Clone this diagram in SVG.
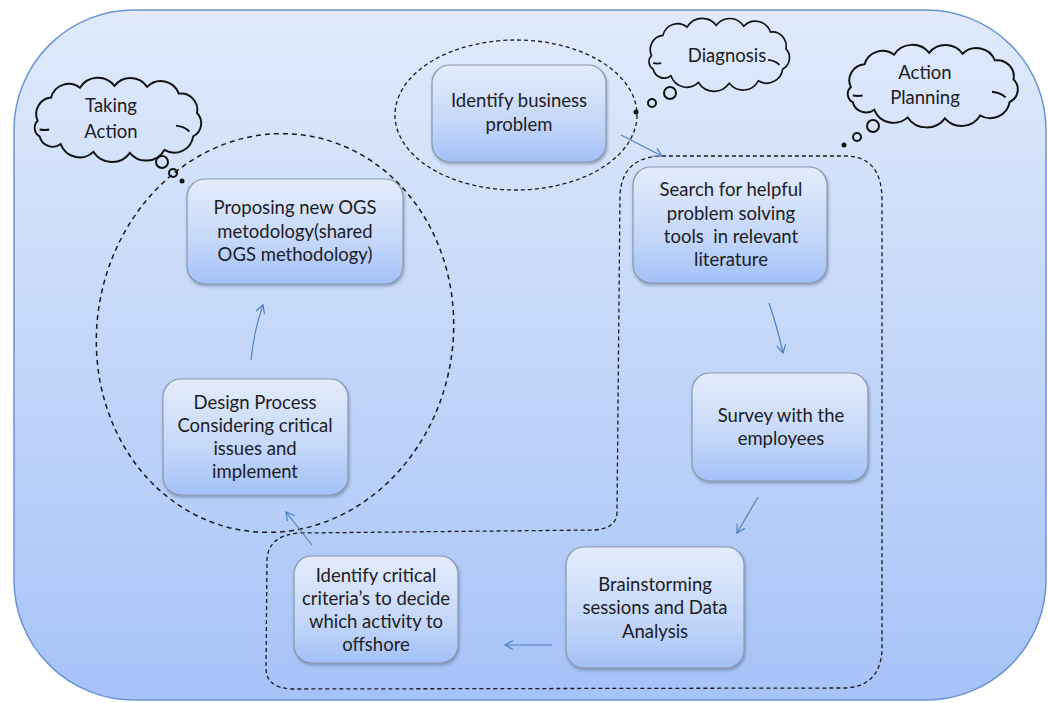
<svg xmlns="http://www.w3.org/2000/svg" width="1048" height="703" viewBox="0 0 1048 703">
  <defs>
    <linearGradient id="bgGrad" x1="0" y1="0" x2="0" y2="1">
      <stop offset="0" stop-color="#e0eafb"/>
      <stop offset="1" stop-color="#a6c3f8"/>
    </linearGradient>
    <linearGradient id="nodeGrad" x1="0" y1="0" x2="0" y2="1">
      <stop offset="0" stop-color="#e4ecfb"/>
      <stop offset="0.6" stop-color="#c4d7f9"/>
      <stop offset="1" stop-color="#a3c1f7"/>
    </linearGradient>
    <filter id="shadow" x="-10%" y="-10%" width="125%" height="130%">
      <feDropShadow dx="1" dy="2" stdDeviation="1.5" flood-color="#3a4a66" flood-opacity="0.4"/>
    </filter>
    <marker id="arrow" markerWidth="12" markerHeight="12" refX="9" refY="5" orient="auto" markerUnits="userSpaceOnUse">
      <path d="M1,0.5 L9,5 L1,9.5" fill="none" stroke="#4f81bd" stroke-width="1.2"/>
    </marker>
    <path id="cloudShape" d="M8,40 A17,17 0 0 1 22,16 A19,19 0 0 1 52,6 A22,22 0 0 1 88,4 A21,21 0 0 1 122,5 A20,20 0 0 1 155,12 A17,17 0 0 1 174,32 A15,15 0 0 1 170,56 A20,20 0 0 1 140,70 A22,22 0 0 1 104,73 A23,23 0 0 1 66,72 A21,21 0 0 1 32,64 A14,14 0 0 1 10,56 A10,10 0 0 1 8,40 Z M10,49 Q15,50 20,49 M152,45 Q161,46 166,51"/>
  </defs>
  <style>
    .node rect { fill: url(#nodeGrad); stroke: #8a97ad; stroke-width: 1.2; filter: url(#shadow); }
    text { font-family: Lato, "Open Sans", "Liberation Sans", sans-serif; font-size: 18.5px; fill: #1d1d24; text-anchor: middle; white-space: pre; }
    .conn { fill: none; stroke: #4f81bd; stroke-width: 1.2; marker-end: url(#arrow); }
    .dash { fill: none; stroke: #1a1a1a; stroke-width: 1.5; stroke-dasharray: 5 4; }
    .dash-thin { fill: none; stroke: #1a1a1a; stroke-width: 1.3; stroke-dasharray: 4 3; }
    .cloud use { fill: none; stroke: #111; stroke-width: 2; vector-effect: non-scaling-stroke; }
    .bubble { fill: none; stroke: #111; stroke-width: 2; }
  </style>

  <!-- backdrop panel -->
  <rect x="14" y="10" width="1032" height="690" rx="120" ry="120" fill="url(#bgGrad)" stroke="#6a95d4" stroke-width="1.5"/>

  <!-- phase groupings -->
  <g id="groupings">
    <ellipse class="dash-thin" cx="516" cy="115" rx="121" ry="75"/>
    <ellipse class="dash" cx="275" cy="333" rx="178" ry="200" transform="rotate(10 275 333)"/>
    <path class="dash-thin" d="M617,512 Q617,528 595,530 L300,533 Q268,535 267,560 L266,668 Q266,688 292,689 L842,688 Q880,688 882,650 L882,200 Q882,156 845,156 L660,156 Q622,158 620,195 Z"/>
  </g>

  <!-- thought clouds -->
  <g id="cloud-taking-action" class="cloud">
    <use href="#cloudShape" transform="translate(30,82) scale(0.96,0.97)"/>
    <circle class="bubble" cx="162" cy="162" r="6"/>
    <circle class="bubble" cx="173" cy="173" r="4"/>
    <circle cx="182" cy="181" r="2.5" fill="#111"/>
    <text x="111" y="112">Taking</text>
    <text x="111" y="138">Action</text>
  </g>
  <g id="cloud-diagnosis" class="cloud">
    <use href="#cloudShape" transform="translate(645,22) scale(0.81,0.84)"/>
    <circle class="bubble" cx="670" cy="93" r="6"/>
    <circle class="bubble" cx="652" cy="103" r="4"/>
    <circle cx="636" cy="112" r="2.5" fill="#111"/>
    <text x="727" y="62">Diagnosis</text>
  </g>
  <g id="cloud-action-planning" class="cloud">
    <use href="#cloudShape" transform="translate(843,49) scale(0.98,0.95)"/>
    <circle class="bubble" cx="873" cy="126" r="6"/>
    <circle class="bubble" cx="857" cy="137" r="4"/>
    <circle cx="844" cy="145" r="2.5" fill="#111"/>
    <text x="925" y="79">Action</text>
    <text x="925" y="104">Planning</text>
  </g>

  <!-- process steps -->
  <g id="node-identify-problem" class="node">
    <rect x="432" y="65" width="174" height="97" rx="18"/>
    <text x="519" y="107">Identify business</text>
    <text x="519" y="131">problem</text>
  </g>
  <g id="node-search-tools" class="node">
    <rect x="633" y="167" width="194" height="116" rx="18"/>
    <text x="731" y="196">Search for helpful</text>
    <text x="731" y="220">problem solving</text>
    <text x="731" y="243">tools  in relevant</text>
    <text x="731" y="266">literature</text>
  </g>
  <g id="node-survey" class="node">
    <rect x="692" y="373" width="176" height="108" rx="18"/>
    <text x="781" y="422">Survey with the</text>
    <text x="781" y="445">employees</text>
  </g>
  <g id="node-brainstorming" class="node">
    <rect x="566" y="547" width="178" height="121" rx="18"/>
    <text x="655" y="591">Brainstorming</text>
    <text x="655" y="614">sessions and Data</text>
    <text x="655" y="638">Analysis</text>
  </g>
  <g id="node-critical-criteria" class="node">
    <rect x="294" y="556" width="164" height="107" rx="18"/>
    <text x="376" y="582">Identify critical</text>
    <text x="376" y="605">criteria’s to decide</text>
    <text x="376" y="628">which activity to</text>
    <text x="376" y="651">offshore</text>
  </g>
  <g id="node-design-process" class="node">
    <rect x="163" y="379" width="185" height="116" rx="18"/>
    <text x="255" y="409">Design Process</text>
    <text x="255" y="432">Considering critical</text>
    <text x="255" y="455">issues and</text>
    <text x="255" y="478">implement</text>
  </g>
  <g id="node-proposing" class="node">
    <rect x="187" y="179" width="216" height="105" rx="18"/>
    <text x="295" y="214">Proposing new OGS</text>
    <text x="295" y="238">metodology(shared</text>
    <text x="295" y="261">OGS methodology)</text>
  </g>

  <!-- flow connectors -->
  <g id="connectors">
    <path class="conn" d="M621,135 L662,156"/>
    <path class="conn" d="M769,303 Q777,326 783,353"/>
    <path class="conn" d="M758,497 L737,533"/>
    <path class="conn" d="M552,645 L505,645"/>
    <path class="conn" d="M312,545 L286,512"/>
    <path class="conn" d="M251,360 Q254,330 263,305"/>
  </g>
</svg>
